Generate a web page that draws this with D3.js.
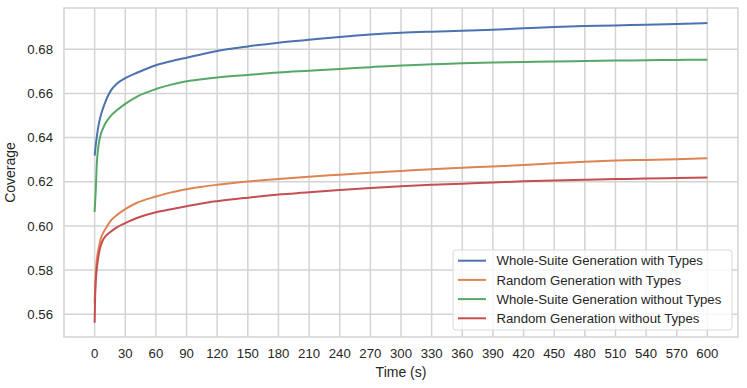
<!DOCTYPE html>
<html>
<head>
<meta charset="utf-8">
<script src="https://cdn.jsdelivr.net/npm/d3@7"></script>
<style>
  body { margin: 0; background: #fff; }
  text { font-family: "Liberation Sans", Arial, sans-serif; fill: #262626; }
</style>
</head>
<body>
<div id="chart"></div>
<script>
// time points (s) at which the curves were read
const times = [0, 0.5, 1, 2, 4, 6, 8, 11, 16, 22, 30, 42, 60, 75, 90, 105, 120, 150, 180, 210, 240, 270, 300, 330, 360, 390, 420, 450, 480, 510, 540, 570, 600];

const wholeSuiteTypes = [0.6318, 0.6340, 0.6362, 0.6400, 0.6460, 0.6500, 0.6530, 0.6568, 0.6614, 0.6645, 0.6669, 0.6695, 0.6728, 0.6746, 0.6762, 0.6778, 0.6792, 0.6813, 0.6830, 0.6843, 0.6856, 0.6867, 0.6875, 0.6880, 0.6884, 0.6889, 0.6895, 0.6901, 0.6905, 0.6908, 0.6911, 0.6914, 0.6919];
const randomTypes = [0.5650, 0.5720, 0.5780, 0.5840, 0.5900, 0.5942, 0.5965, 0.5990, 0.6025, 0.6050, 0.6076, 0.6106, 0.6133, 0.6152, 0.6166, 0.6177, 0.6186, 0.6201, 0.6213, 0.6223, 0.6232, 0.6241, 0.6249, 0.6257, 0.6264, 0.6269, 0.6276, 0.6284, 0.6291, 0.6296, 0.6299, 0.6302, 0.6306];
const wholeSuiteNoTypes = [0.6063, 0.6110, 0.6150, 0.6270, 0.6370, 0.6415, 0.6440, 0.6468, 0.6500, 0.6525, 0.6553, 0.6587, 0.6620, 0.6640, 0.6655, 0.6664, 0.6672, 0.6684, 0.6695, 0.6703, 0.6711, 0.6719, 0.6727, 0.6732, 0.6737, 0.6740, 0.6742, 0.6745, 0.6747, 0.6749, 0.6750, 0.6752, 0.6753];
const randomNoTypes = [0.5562, 0.5680, 0.5740, 0.5800, 0.5870, 0.5910, 0.5935, 0.5955, 0.5975, 0.5995, 0.6013, 0.6037, 0.6062, 0.6076, 0.6089, 0.6102, 0.6112, 0.6128, 0.6142, 0.6152, 0.6163, 0.6172, 0.6180, 0.6186, 0.6191, 0.6197, 0.6202, 0.6206, 0.6209, 0.6212, 0.6215, 0.6217, 0.6219];

const seriesNames = ["Whole-Suite Generation with Types", "Random Generation with Types", "Whole-Suite Generation without Types", "Random Generation without Types"];
const seriesValues = [wholeSuiteTypes, randomTypes, wholeSuiteNoTypes, randomNoTypes];
const colors = ["#4c72b0", "#dd8452", "#55a868", "#c44e52"];

const xTicks = d3.range(0, 601, 30);
const yTicks = [0.56, 0.58, 0.60, 0.62, 0.64, 0.66, 0.68];

const width = 747, height = 388;
const margin = {top: 8, right: 9, bottom: 51, left: 64};
const w = width - margin.left - margin.right;
const h = height - margin.top - margin.bottom;

const svg = d3.select("#chart").append("svg")
    .attr("width", width)
    .attr("height", height);

const x = d3.scaleLinear().domain([-30, 630]).range([0, w]);
const y = d3.scaleLinear().domain([0.5497, 0.6987]).range([h, 0]);

const g = svg.append("g")
    .attr("transform", "translate(" + margin.left + "," + margin.top + ")");

// grid
g.selectAll("line.vgrid").data(xTicks).enter().append("line")
    .attr("x1", x).attr("x2", x)
    .attr("y1", 0).attr("y2", h)
    .attr("stroke", "#d3d3d3").attr("stroke-width", 1.5);
g.selectAll("line.hgrid").data(yTicks).enter().append("line")
    .attr("y1", y).attr("y2", y)
    .attr("x1", 0).attr("x2", w)
    .attr("stroke", "#d3d3d3").attr("stroke-width", 1.5);

// frame
g.append("rect")
    .attr("width", w).attr("height", h)
    .attr("fill", "none")
    .attr("stroke", "#d3d3d3").attr("stroke-width", 1.5);

// tick labels
g.selectAll("text.xt").data(xTicks).enter().append("text")
    .attr("x", x).attr("y", h + 21)
    .attr("text-anchor", "middle")
    .style("font-size", "13.2px")
    .text(d => d);
g.selectAll("text.yt").data(yTicks).enter().append("text")
    .attr("x", -11).attr("y", d => y(d) + 4.6)
    .attr("text-anchor", "end")
    .style("font-size", "13.2px")
    .text(d => d3.format(".2f")(d));

// axis labels
g.append("text")
    .attr("x", w / 2).attr("y", h + 40)
    .attr("text-anchor", "middle")
    .style("font-size", "14px")
    .text("Time (s)");
g.append("text")
    .attr("transform", "translate(" + (-49) + "," + (h / 2) + ") rotate(-90)")
    .attr("text-anchor", "middle")
    .style("font-size", "14px")
    .text("Coverage");

// lines
const line = d3.line()
    .x((d, i) => x(times[i]))
    .y(d => y(d))
    .curve(d3.curveMonotoneX);

seriesValues.forEach((vals, k) => {
    g.append("path")
        .datum(vals)
        .attr("fill", "none")
        .attr("stroke", colors[k])
        .attr("stroke-width", 2)
        .attr("d", line);
});

// legend
const legend = svg.append("g").attr("transform", "translate(453,250)");
legend.append("rect")
    .attr("width", 279).attr("height", 80)
    .attr("rx", 3)
    .attr("fill", "#fff").attr("fill-opacity", 0.8)
    .attr("stroke", "#d9d9d9").attr("stroke-width", 1);

seriesNames.forEach((name, k) => {
    const row = legend.append("g").attr("transform", "translate(0," + (10.7 + k * 19.2) + ")");
    row.append("line")
        .attr("x1", 5).attr("x2", 33)
        .attr("stroke", colors[k]).attr("stroke-width", 2);
    row.append("text")
        .attr("x", 43.5).attr("y", 4.6)
        .style("font-size", "13.2px")
        .text(name);
});
</script>
</body>
</html>
